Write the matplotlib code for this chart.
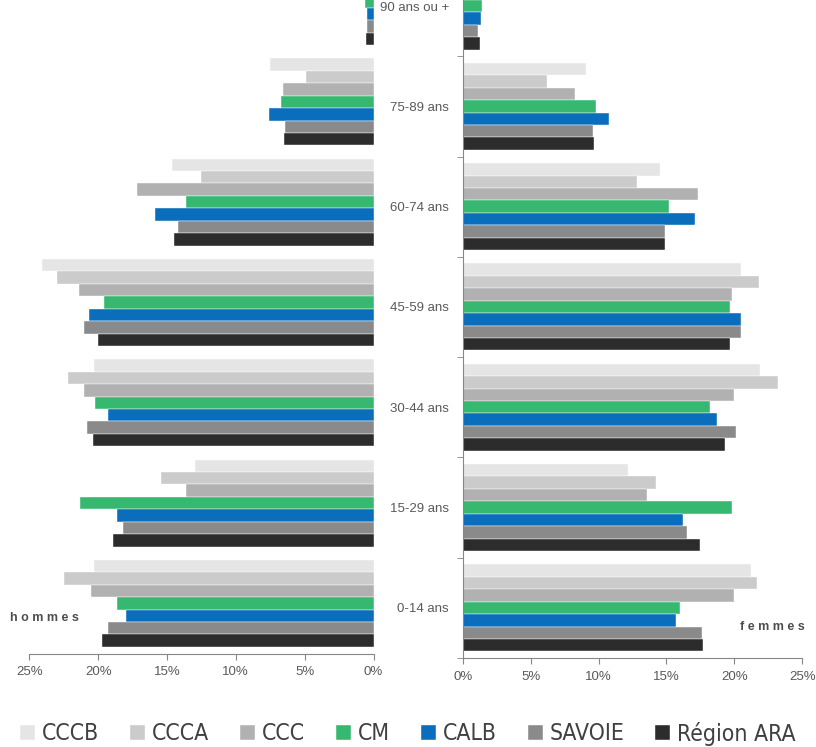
import numpy as np
import matplotlib
matplotlib.use("Agg")
import matplotlib.pyplot as plt
from matplotlib.ticker import FixedLocator, FuncFormatter

# age groups, bottom to top
ages = ["0-14 ans", "15-29 ans", "30-44 ans", "45-59 ans", "60-74 ans", "75-89 ans", "90 ans ou +"]
series = ["CCCB", "CCCA", "CCC", "CM", "CALB", "SAVOIE", "Région ARA"]
colors = ["#e5e5e5", "#cbcbcb", "#b1b1b1", "#36b870", "#0a6ebd", "#8a8a8a", "#2c2c2c"]

# hommes (%)
h_cccb = [20.3, 13.0, 20.3, 24.1, 14.6, 7.5, 0.5]
h_ccca = [22.5, 15.4, 22.2, 23.0, 12.5, 4.9, 0.4]
h_ccc = [20.5, 13.6, 21.0, 21.4, 17.2, 6.6, 0.5]
h_cm = [18.6, 21.3, 20.2, 19.6, 13.6, 6.7, 0.6]
h_calb = [18.0, 18.6, 19.3, 20.7, 15.9, 7.6, 0.5]
h_savoie = [19.3, 18.2, 20.8, 21.0, 14.2, 6.4, 0.45]
h_ara = [19.7, 18.9, 20.4, 20.0, 14.5, 6.5, 0.55]

# femmes (%)
f_cccb = [21.2, 12.2, 21.9, 20.5, 14.5, 9.1, 0.9]
f_ccca = [21.7, 14.2, 23.2, 21.8, 12.8, 6.2, 0.7]
f_ccc = [20.0, 13.6, 20.0, 19.8, 17.3, 8.3, 1.0]
f_cm = [16.0, 19.8, 18.2, 19.7, 15.2, 9.8, 1.45]
f_calb = [15.7, 16.2, 18.7, 20.5, 17.1, 10.8, 1.35]
f_savoie = [17.6, 16.5, 20.1, 20.5, 14.9, 9.6, 1.15]
f_ara = [17.7, 17.5, 19.3, 19.7, 14.9, 9.7, 1.27]

hommes = [h_cccb, h_ccca, h_ccc, h_cm, h_calb, h_savoie, h_ara]
femmes = [f_cccb, f_ccca, f_ccc, f_cm, f_calb, f_savoie, f_ara]

plt.rcParams['font.family'] = ['Liberation Sans', 'DejaVu Sans']
GREY = "#595959"
SPINE = "#868686"

W, H = 816, 747
fig = plt.figure(figsize=(W / 100, H / 100), dpi=100)

ax_h = fig.add_axes([29.3 / W, (H - 653.5) / H, (373.5 - 29.3) / W, 658 / H])
ax_f = fig.add_axes([462.7 / W, (H - 658) / H, (802.3 - 462.7) / W, 658 / H])

y = np.arange(len(ages))
bh = 0.124
for k, name in enumerate(series):
    off = (3 - k) * bh
    ax_h.barh(y + off, hommes[k], height=bh, color=colors[k], edgecolor="white", linewidth=0.3, label=name)
    ax_f.barh(y + off, femmes[k], height=bh, color=colors[k], edgecolor="white", linewidth=0.3)

ytop = -0.5 + 658 / 100.3
pct = FuncFormatter(lambda v, p: "%d%%" % v)
for ax in (ax_h, ax_f):
    ax.set_ylim(-0.5, ytop)
    ax.set_xlim(0, 25)
    ax.set_xticks([0, 5, 10, 15, 20, 25])
    ax.xaxis.set_major_formatter(pct)
    ax.tick_params(axis="x", colors=SPINE, labelcolor=GREY, labelsize=9.5, length=4, pad=5)
    for s in ("top", "right", "left"):
        ax.spines[s].set_visible(False)
    ax.spines["bottom"].set_color(SPINE)
    ax.set_facecolor("none")

ax_h.invert_xaxis()
ax_h.set_yticks([])

ax_f.spines["left"].set_visible(True)
ax_f.spines["left"].set_color(SPINE)
ax_f.set_yticks(y)
ax_f.set_yticklabels(ages)
ax_f.yaxis.set_minor_locator(FixedLocator(np.arange(-0.5, len(ages), 1.0)))
ax_f.tick_params(axis="y", which="major", length=0, pad=10, labelsize=9.5, labelcolor=GREY)
ax_f.tick_params(axis="y", which="minor", length=4, color=SPINE)

fig.text(10 / W, (H - 618) / H, "h o m m e s", fontsize=9, fontweight="bold", color="#4d4d4d", va="center", ha="left")
fig.text(805 / W, (H - 627) / H, "f e m m e s", fontsize=9, fontweight="bold", color="#4d4d4d", va="center", ha="right")

# legend: shrink the font until the row fits the width used in the reference
handles, labels = ax_h.get_legend_handles_labels()
size = 16.5
for _ in range(12):
    leg = fig.legend(handles, labels, loc="center", bbox_to_anchor=(0.5, (H - 733.5) / H), ncol=7, frameon=False,
                     prop={'family': ['DejaVu Sans'], 'stretch': 'condensed', 'size': size},
                     handlelength=0.65, handleheight=0.65, handletextpad=0.3, columnspacing=1.35,
                     labelcolor="#404040", borderpad=0, borderaxespad=0)
    fig.canvas.draw()
    w = leg.get_window_extent().width
    if w <= 780:
        break
    leg.remove()
    size = size * 778 / w

fig.savefig("out.png", dpi=100)
